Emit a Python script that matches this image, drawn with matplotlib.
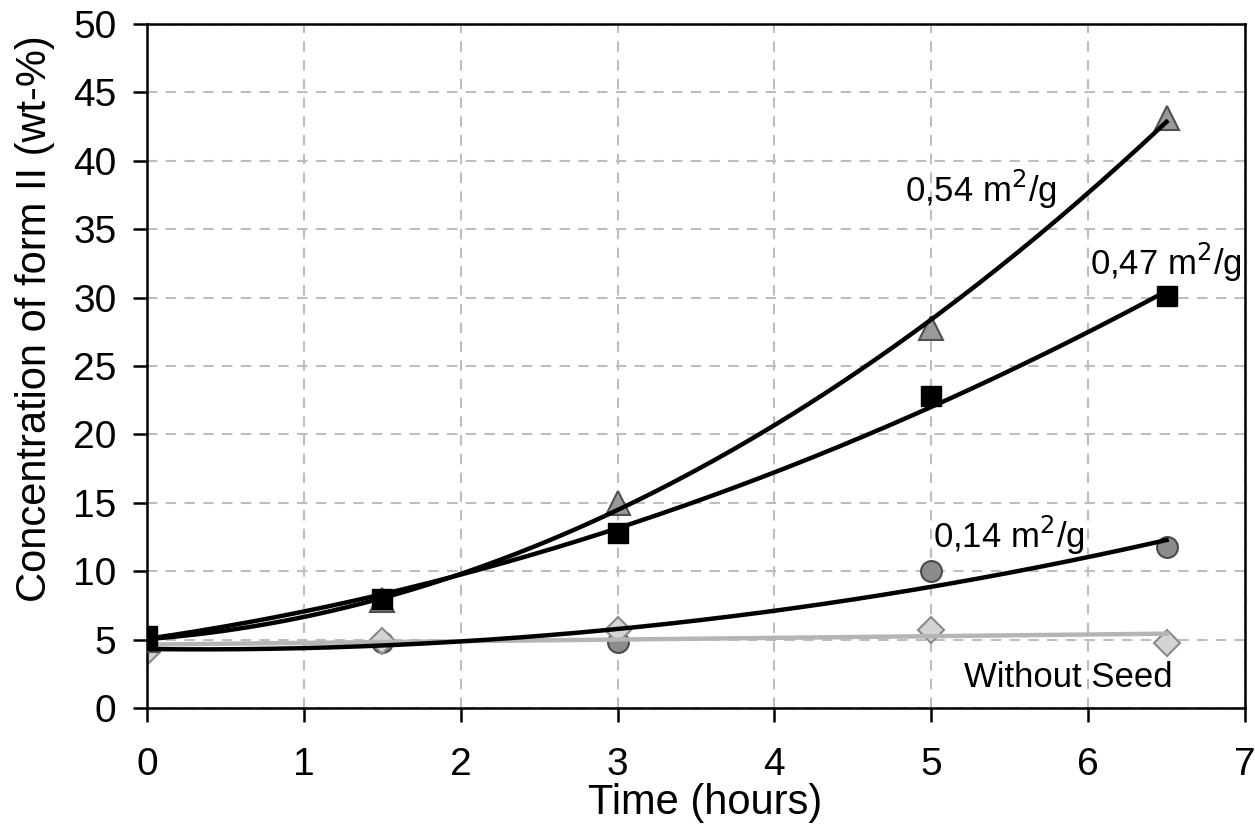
import numpy as np
import matplotlib
matplotlib.use("Agg")
import matplotlib.pyplot as plt

plt.rcParams['font.family'] = ['Liberation Sans', 'DejaVu Sans']

time_h = [0, 1.5, 3, 5, 6.5]
conc_054 = [5.0, 7.9, 15.0, 27.8, 43.1]
conc_047 = [5.3, 8.0, 12.8, 22.8, 30.1]
conc_014 = [4.4, 4.8, 4.8, 10.0, 11.8]
conc_noseed = [4.1, 4.9, 5.7, 5.7, 4.75]

x_ticks = [0, 1, 2, 3, 4, 5, 6, 7]
y_ticks = [0, 5, 10, 15, 20, 25, 30, 35, 40, 45, 50]

fig = plt.figure(figsize=(12.55, 8.25), dpi=100)
ax = fig.add_axes([0.1171, 0.1418, 0.8749, 0.8291])

xs = np.linspace(0, 6.5, 200)
for ys in (conc_054, conc_047, conc_014):
    c = np.polyfit(time_h, ys, 2)
    ax.plot(xs, np.polyval(c, xs), color='black', lw=3.2, zorder=3)
c = np.polyfit(time_h, conc_noseed, 1)
ax.plot(xs, np.polyval(c, xs), color='#b5b5b5', lw=3.2, zorder=2.8)

ax.plot(time_h, conc_014, linestyle='none', marker='o', ms=15, mfc='#8c8c8c', mec='#4a4a4a', mew=1.5, zorder=2.4)
ax.plot(time_h, conc_noseed, linestyle='none', marker='D', ms=13, mfc='#d4d4d4', mec='#8a8a8a', mew=1.5, zorder=2.5)
ax.plot(time_h, conc_054, linestyle='none', marker='^', ms=17, mfc='#9a9a9a', mec='#505050', mew=1.5, zorder=2.7)
ax.plot(time_h, conc_047, linestyle='none', marker='s', ms=15, mfc='black', mec='black', mew=1, zorder=4)

ax.set_xlim(0, 7)
ax.set_ylim(0, 50)
ax.set_xticks(x_ticks)
ax.set_yticks(y_ticks)
ax.grid(True, linestyle=(0, (5, 4)), color='#bdbdbd', lw=1.5)
ax.set_axisbelow(True)
for s in ax.spines.values():
    s.set_linewidth(1.8)
    s.set_color('black')
ax.tick_params(axis='both', direction='out', length=10, width=1.8, labelsize=28)
ax.tick_params(axis='y', pad=12)
ax.tick_params(axis='x', pad=18)

ax.set_xlabel('Time (hours)', fontsize=30)
ax.set_ylabel('Concentration of form II (wt-%)', fontsize=30)
ax.xaxis.set_label_coords(0.508, -0.139)
ax.yaxis.set_label_coords(-0.102, 0.57)
ax.xaxis.label.set_va('center')
ax.yaxis.label.set_va('center')

ax.text(4.83, 37.9, '0,54 m$^2$/g', fontsize=25, va='center', ha='left')
ax.text(6.01, 32.6, '0,47 m$^2$/g', fontsize=25, va='center', ha='left')
ax.text(5.01, 12.6, '0,14 m$^2$/g', fontsize=25, va='center', ha='left')
ax.text(5.21, 2.2, 'Without Seed', fontsize=25, va='center', ha='left')

fig.savefig('out.png', dpi=100)
